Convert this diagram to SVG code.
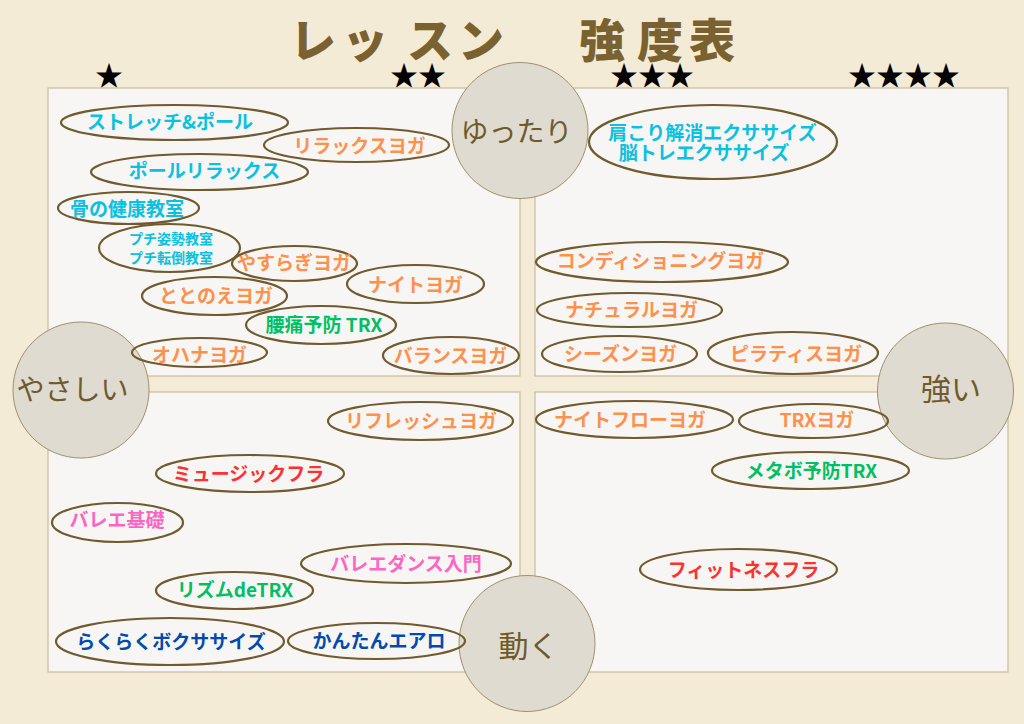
<svg xmlns="http://www.w3.org/2000/svg" width="1024" height="724" viewBox="0 0 1024 724">
<style>
.panel{fill:#F7F6F4;stroke:#C9BC9C;stroke-width:1.2}
.ax{fill:#DFDBD0;stroke:#A0906C;stroke-width:1}
.axt{font-family:"Noto Sans CJK JP","Noto Sans",sans-serif;font-size:28px;fill:#6E5A2C;text-anchor:middle}
.el{fill:none;stroke:#705A2E;stroke-width:2.2}
.lb{font-family:"Noto Sans CJK JP","Noto Sans",sans-serif;font-size:19px;font-weight:700;text-anchor:middle}
.sm{font-size:14px}
.cy{fill:#0CC0DF}.or{fill:#FF914D}.gr{fill:#00BF63}.rd{fill:#FF3131}.pk{fill:#FF66C4}.bl{fill:#004AAD}
.star{font-family:"Noto Sans CJK JP","DejaVu Sans",sans-serif;font-size:28px;fill:#000}
.title{font-family:"Noto Sans CJK JP",sans-serif;font-size:46px;font-weight:900;fill:#7A6230;text-anchor:middle}
</style>
<rect width="1024" height="724" fill="#F4EBD6"/>
<text class="title" x="313 365 430 481 602 660 712" y="57">レッスン強度表</text>
<g id="stars">
<text class="star" x="95" y="86">★</text>
<text class="star" x="390" y="86">★★</text>
<text class="star" x="610" y="86">★★★</text>
<text class="star" x="848" y="86">★★★★</text>
</g>
<g id="panels">
<rect class="panel" x="48" y="88" width="472" height="288"/>
<rect class="panel" x="535" y="88" width="473" height="288"/>
<rect class="panel" x="48" y="392" width="472" height="280"/>
<rect class="panel" x="535" y="392" width="473" height="280"/>
</g>
<g id="axis-top"><circle class="ax" cx="520" cy="130.5" r="68"/><text class="axt" x="516.5" y="141.5">ゆったり</text></g>
<g id="axis-left"><circle class="ax" cx="81" cy="390" r="68"/><text class="axt" x="72.5" y="400">やさしい</text></g>
<g id="axis-right"><circle class="ax" cx="945.5" cy="391" r="68"/><text class="axt" x="951" y="400" style="font-size:30px">強い</text></g>
<g id="axis-bottom"><circle class="ax" cx="527" cy="643.5" r="68"/><text class="axt" x="528.5" y="657" style="font-size:30px">動く</text></g>
<g id="n1"><ellipse class="el" cx="174.5" cy="122.5" rx="113.5" ry="17.5"/><text class="lb cy" x="170" y="129">ストレッチ&amp;ポール</text></g>
<g id="n2"><ellipse class="el" cx="356.5" cy="145" rx="92.5" ry="17"/><text class="lb or" x="359.5" y="152.5">リラックスヨガ</text></g>
<g id="n3"><ellipse class="el" cx="199.5" cy="172" rx="108.5" ry="18"/><text class="lb cy" x="204.5" y="178">ポールリラックス</text></g>
<g id="n4"><ellipse class="el" cx="128.5" cy="208" rx="70.5" ry="16"/><text class="lb cy" x="127" y="215.5">骨の健康教室</text></g>
<g id="n5"><ellipse class="el" cx="169.5" cy="248" rx="70.5" ry="24"/><text class="lb cy sm" x="171" y="244">プチ姿勢教室</text><text class="lb cy sm" x="171" y="263">プチ転倒教室</text></g>
<g id="n6"><ellipse class="el" cx="294.5" cy="263.5" rx="62.5" ry="17.5"/><text class="lb or" x="294" y="270">やすらぎヨガ</text></g>
<g id="n7"><ellipse class="el" cx="415.5" cy="284" rx="68.5" ry="19"/><text class="lb or" x="415.5" y="292">ナイトヨガ</text></g>
<g id="n8"><ellipse class="el" cx="214.5" cy="296" rx="72.5" ry="19"/><text class="lb or" x="216" y="302.5">ととのえヨガ</text></g>
<g id="n9"><ellipse class="el" cx="321" cy="325" rx="75" ry="19"/><text class="lb gr" x="324" y="331.5">腰痛予防 TRX</text></g>
<g id="n10"><ellipse class="el" cx="199.5" cy="352.5" rx="67.5" ry="14.5"/><text class="lb or" x="199.5" y="362">オハナヨガ</text></g>
<g id="n11"><ellipse class="el" cx="451" cy="355.5" rx="68" ry="18.5"/><text class="lb or" x="450.5" y="362.5">バランスヨガ</text></g>
<g id="n12"><ellipse class="el" cx="713" cy="142" rx="124" ry="37"/><text class="lb cy" x="712.5" y="139.5">肩こり解消エクササイズ</text><text class="lb cy" x="704" y="159.5">脳トレエクササイズ</text></g>
<g id="n13"><ellipse class="el" cx="662" cy="262" rx="126" ry="20"/><text class="lb or" x="660.5" y="268">コンディショニングヨガ</text></g>
<g id="n14"><ellipse class="el" cx="629.5" cy="310" rx="92.5" ry="17"/><text class="lb or" x="631.5" y="317">ナチュラルヨガ</text></g>
<g id="n15"><ellipse class="el" cx="619.5" cy="354" rx="77.5" ry="18"/><text class="lb or" x="620.5" y="361">シーズンヨガ</text></g>
<g id="n16"><ellipse class="el" cx="793" cy="353" rx="85" ry="21"/><text class="lb or" x="796" y="361">ピラティスヨガ</text></g>
<g id="n17"><ellipse class="el" cx="420.5" cy="421" rx="92.5" ry="19"/><text class="lb or" x="421" y="427.5">リフレッシュヨガ</text></g>
<g id="n18"><ellipse class="el" cx="250" cy="473.5" rx="94" ry="18.5"/><text class="lb rd" x="248.5" y="481">ミュージックフラ</text></g>
<g id="n19"><ellipse class="el" cx="117.5" cy="522.5" rx="65.5" ry="19.5"/><text class="lb pk" x="117" y="526.5">バレエ基礎</text></g>
<g id="n20"><ellipse class="el" cx="406" cy="563.5" rx="105" ry="19.5"/><text class="lb pk" x="406" y="570.5">バレエダンス入門</text></g>
<g id="n21"><ellipse class="el" cx="234.5" cy="590.5" rx="78.5" ry="18.5"/><text class="lb gr" x="235" y="596.5">リズムdeTRX</text></g>
<g id="n22"><ellipse class="el" cx="170" cy="641.5" rx="114" ry="23.5"/><text class="lb bl" x="171" y="649">らくらくボクササイズ</text></g>
<g id="n23"><ellipse class="el" cx="376.5" cy="641" rx="88.5" ry="18"/><text class="lb bl" x="379" y="648">かんたんエアロ</text></g>
<g id="n24"><ellipse class="el" cx="634.5" cy="419.5" rx="98.5" ry="18.5"/><text class="lb or" x="630" y="426.5">ナイトフローヨガ</text></g>
<g id="n25"><ellipse class="el" cx="813.5" cy="421" rx="74.5" ry="17"/><text class="lb or" x="817" y="427">TRXヨガ</text></g>
<g id="n26"><ellipse class="el" cx="810.5" cy="470.5" rx="98.5" ry="18.5"/><text class="lb gr" x="811.5" y="477.5">メタボ予防TRX</text></g>
<g id="n27"><ellipse class="el" cx="738.5" cy="569.5" rx="98.5" ry="20.5"/><text class="lb rd" x="743.5" y="577">フィットネスフラ</text></g>
<g id="connectors"></g>
</svg>
